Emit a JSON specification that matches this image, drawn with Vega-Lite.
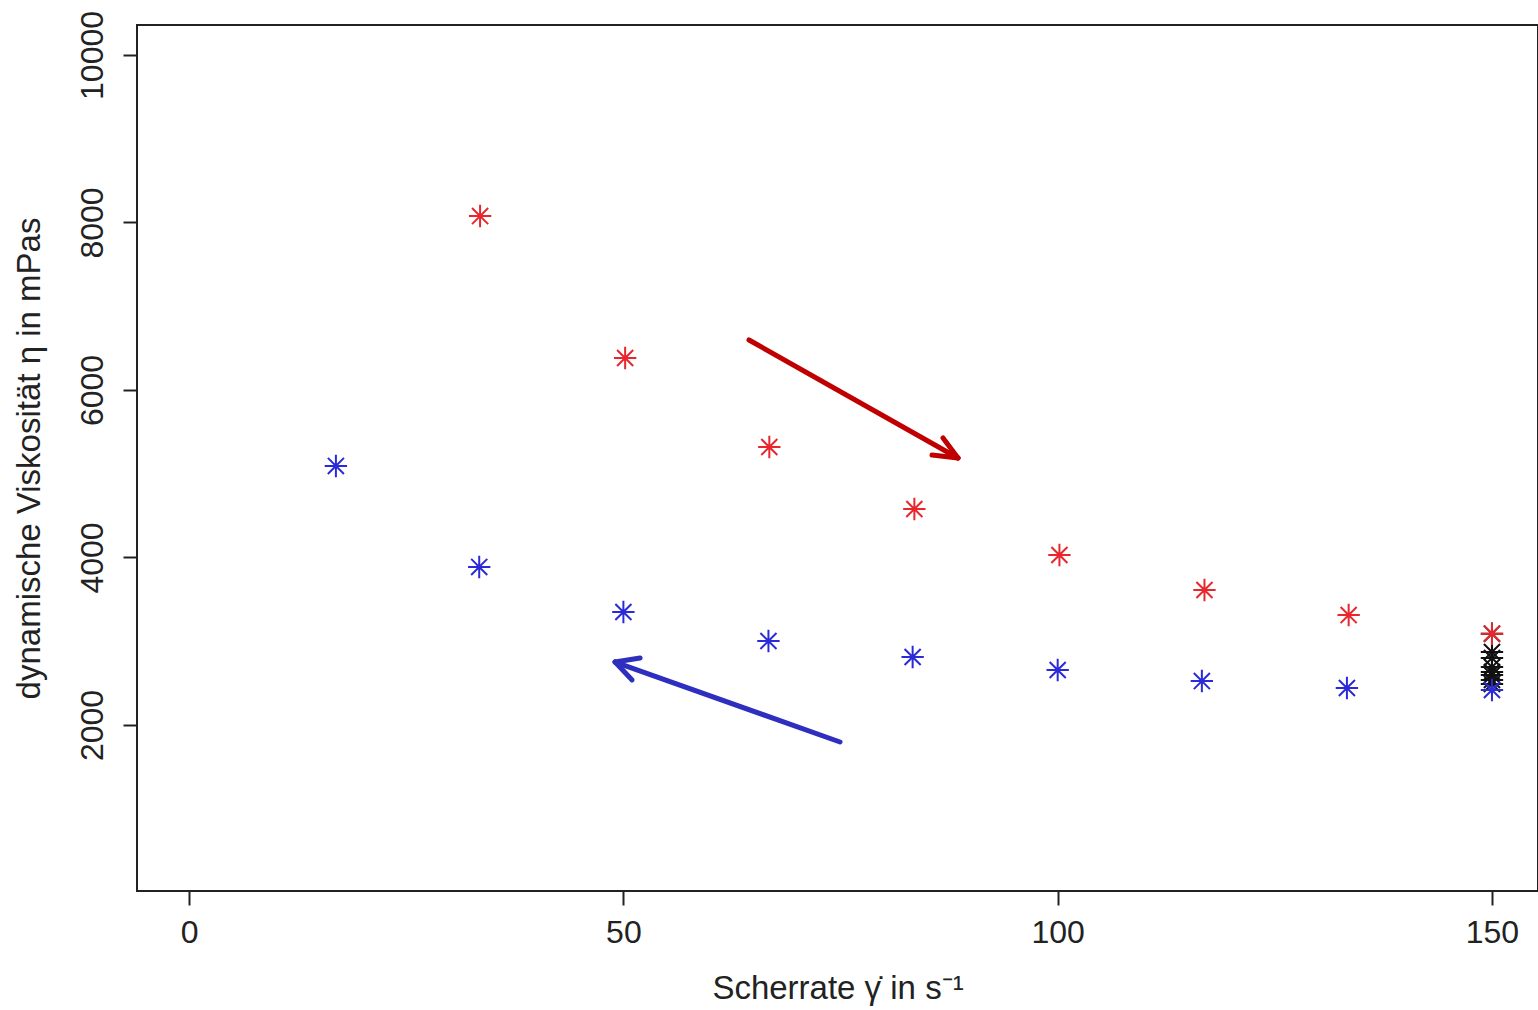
{
  "$schema": "https://vega.github.io/schema/vega-lite/v6.json",
  "autosize": {"type": "none"},
  "width": 1401,
  "height": 866,
  "padding": {"left": 137, "top": 25, "right": 0, "bottom": 119},
  "background": "white",
  "config": {
    "view": {"stroke": "#222", "strokeWidth": 2},
    "font": "Liberation Sans",
    "axis": {
      "domain": false,
      "grid": false,
      "tickColor": "#222",
      "tickWidth": 2,
      "tickSize": 14,
      "labelColor": "#222",
      "labelFontSize": 32,
      "titleColor": "#222",
      "titleFontSize": 33,
      "titleFontWeight": "normal",
      "labelFont": "Liberation Sans",
      "titleFont": "Liberation Sans"
    }
  },
  "layer": [
    {
      "data": {
        "values": [
          {"serie": "schwarz", "scherrate": 150, "eta": 3090},
          {"serie": "schwarz", "scherrate": 150, "eta": 2872},
          {"serie": "schwarz", "scherrate": 150, "eta": 2800},
          {"serie": "schwarz", "scherrate": 150, "eta": 2692},
          {"serie": "schwarz", "scherrate": 150, "eta": 2633},
          {"serie": "schwarz", "scherrate": 150, "eta": 2597},
          {"serie": "schwarz", "scherrate": 150, "eta": 2537},
          {"serie": "schwarz", "scherrate": 150, "eta": 2490},
          {"serie": "rot", "scherrate": 33.5, "eta": 8077},
          {"serie": "rot", "scherrate": 50.2, "eta": 6382},
          {"serie": "rot", "scherrate": 66.8, "eta": 5319},
          {"serie": "rot", "scherrate": 83.5, "eta": 4579},
          {"serie": "rot", "scherrate": 100.2, "eta": 4030},
          {"serie": "rot", "scherrate": 116.9, "eta": 3612},
          {"serie": "rot", "scherrate": 133.5, "eta": 3313},
          {"serie": "rot", "scherrate": 150, "eta": 3090},
          {"serie": "blau", "scherrate": 16.9, "eta": 5093},
          {"serie": "blau", "scherrate": 33.4, "eta": 3887},
          {"serie": "blau", "scherrate": 50.0, "eta": 3349},
          {"serie": "blau", "scherrate": 66.7, "eta": 3003},
          {"serie": "blau", "scherrate": 83.3, "eta": 2812},
          {"serie": "blau", "scherrate": 100.0, "eta": 2657},
          {"serie": "blau", "scherrate": 116.6, "eta": 2525},
          {"serie": "blau", "scherrate": 133.3, "eta": 2442},
          {"serie": "blau", "scherrate": 150, "eta": 2418}
        ]
      },
      "mark": {
        "type": "point",
        "shape": "M-1,0L1,0M0,-1L0,1M-0.72,-0.72L0.72,0.72M-0.72,0.72L0.72,-0.72",
        "filled": false,
        "size": 500,
        "strokeWidth": 2,
        "opacity": 1
      },
      "encoding": {
        "x": {
          "field": "scherrate",
          "type": "quantitative",
          "scale": {"domain": [-6, 155.3], "nice": false, "zero": false},
          "axis": {
            "values": [0, 50, 100, 150],
            "format": "d",
            "title": "Scherrate γ̇ in s⁻¹",
            "labelPadding": 12,
            "titlePadding": 24
          }
        },
        "y": {
          "field": "eta",
          "type": "quantitative",
          "scale": {"domain": [18, 10358], "nice": false, "zero": false},
          "axis": {
            "values": [2000, 4000, 6000, 8000, 10000],
            "format": "d",
            "title": "dynamische Viskosität η in mPas",
            "labelAngle": 270,
            "labelAlign": "center",
            "labelBaseline": "bottom",
            "labelPadding": 14,
            "titlePadding": 30
          }
        },
        "color": {
          "field": "serie",
          "type": "nominal",
          "scale": {
            "domain": ["schwarz", "rot", "blau", "Pfeil rot", "Pfeil blau"],
            "range": ["#111111", "#e8262b", "#2a2ad8", "#c00000", "#2f2fbf"]
          },
          "legend": null
        }
      }
    },
    {
      "data": {
        "values": [
          {"serie": "Pfeil rot", "x": 64.46, "y": 6597, "x2": 88.52, "y2": 5188},
          {"serie": "Pfeil rot", "x": 85.53, "y": 5224, "x2": 88.52, "y2": 5188},
          {"serie": "Pfeil rot", "x": 86.8, "y": 5427, "x2": 88.52, "y2": 5188},
          {"serie": "Pfeil blau", "x": 74.94, "y": 1797, "x2": 49.04, "y2": 2752},
          {"serie": "Pfeil blau", "x": 51.92, "y": 2800, "x2": 49.04, "y2": 2752},
          {"serie": "Pfeil blau", "x": 51.0, "y": 2537, "x2": 49.04, "y2": 2752}
        ]
      },
      "mark": {"type": "rule", "strokeWidth": 5, "strokeCap": "round"},
      "encoding": {
        "x": {"field": "x", "type": "quantitative"},
        "y": {"field": "y", "type": "quantitative"},
        "x2": {"field": "x2"},
        "y2": {"field": "y2"},
        "color": {"field": "serie", "type": "nominal", "legend": null}
      }
    }
  ]
}
